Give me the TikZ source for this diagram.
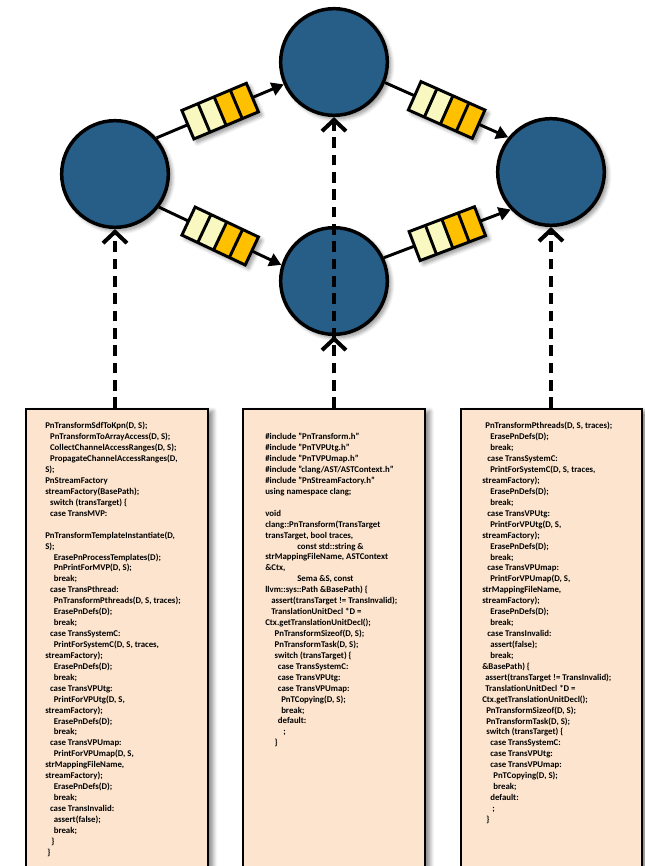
\documentclass[tikz,border=0pt]{standalone}
\usepackage{fontspec}
\setmainfont{Carlito}
\usetikzlibrary{arrows.meta,shadows,shadows.blur,calc}
\definecolor{cblue}{RGB}{38,94,136}
\definecolor{qlight}{RGB}{248,248,192}
\definecolor{qorange}{RGB}{255,192,0}
\definecolor{peach}{RGB}{252,228,206}
\newcommand\Ia{\hspace*{3.6pt}}
\newcommand\Ib{\hspace*{6.4pt}}
\begin{document}
\begin{tikzpicture}[x=0.75pt,y=-0.75pt,
 softshadow/.style={blur shadow={shadow xshift=2.5pt,shadow yshift=-2.5pt,shadow blur radius=3pt,shadow opacity=45,shadow blur steps=8}},
 proc/.style={circle,draw=black,line width=2.6pt,fill=cblue,minimum size=80pt,inner sep=0pt,softshadow},
 edge/.style={line width=2.2pt,-{Triangle[length=9pt,width=10pt]}},
 darr/.style={line width=3pt,dash pattern=on 8pt off 5pt,-{Straight Barb[length=8.5pt,width=18pt]}},
 codebox/.style={draw=black,line width=1.5pt,fill=peach,inner sep=0pt,anchor=north west,
   minimum height=354pt,blur shadow={shadow xshift=3.5pt,shadow yshift=-2pt,shadow blur radius=3.5pt,shadow opacity=50,shadow blur steps=8}},
 code/.style={anchor=north west,inner sep=0pt,align=left,font=\fontsize{6.6pt}{8.2pt}\selectfont\bfseries},
 queue/.pic={
   \path[softshadow] (-35,-15.5) rectangle (35,15.5);
   \fill[qlight] (-35,-15.5) rectangle (0,15.5);
   \fill[qorange] (0,-15.5) rectangle (35,15.5);
   \draw[line width=2.2pt] (-17.5,-15.5) -- (-17.5,15.5) (0,-15.5) -- (0,15.5) (17.5,-15.5) -- (17.5,15.5);
   \draw[line width=2.2pt] (-35,-15.5) rectangle (35,15.5);
 }
]
\useasboundingbox (0,0) rectangle (645,866);

% code boxes
\node[codebox,minimum width=136.5pt] (lbox) at (25,408) {};
\node[codebox,minimum width=136.5pt] (mbox) at (242,408) {};
\node[codebox,minimum width=135.75pt] (rbox) at (460,408) {};

% processes
\node[proc] (L) at (115,174) {};
\node[proc] (T) at (334,62) {};
\node[proc] (B) at (334,281) {};
\node[proc] (R) at (551,172) {};

% channels
\draw[edge] (L.41) -- (T.-156);
\draw[edge] (L.-37) -- (B.163);
\draw[edge] (T.-22) -- (R.141);
\draw[edge] (B.25) -- (R.-137);
\path (L.41) -- pic[pos=.5,sloped]{queue} (T.-156);
\path (L.-37) -- pic[pos=.5,sloped]{queue} (B.163);
\path (T.-22) -- pic[pos=.5,sloped]{queue} (R.141);
\path (B.25) -- pic[pos=.5,sloped]{queue} (R.-137);

% mappings
\draw[darr] (L.south |- lbox.north) -- (L.south);
\draw[darr] (B.south |- mbox.north) -- (B.south);
\draw[darr] (B.south |- mbox.north) -- (T.south);
\draw[darr] (R.south |- rbox.north) -- (R.south);

% code
\node[code] (ltext) at (45,422) {PnTransformSdfToKpn(D, S);\\
\Ia PnTransformToArrayAccess(D, S);\\
\Ia CollectChannelAccessRanges(D, S);\\
\Ia PropagateChannelAccessRanges(D,\\
S);\\
PnStreamFactory\\
streamFactory(BasePath);\\
\Ia switch (transTarget) \{\\
\Ia case TransMVP:\\[8.2pt]
PnTransformTemplateInstantiate(D,\\
S);\\
\Ib ErasePnProcessTemplates(D);\\
\Ib PnPrintForMVP(D, S);\\
\Ib break;\\
\Ia case TransPthread:\\
\Ib PnTransformPthreads(D, S, traces);\\
\Ib ErasePnDefs(D);\\
\Ib break;\\
\Ia case TransSystemC:\\
\Ib PrintForSystemC(D, S, traces,\\
streamFactory);\\
\Ib ErasePnDefs(D);\\
\Ib break;\\
\Ia case TransVPUtg:\\
\Ib PrintForVPUtg(D, S,\\
streamFactory);\\
\Ib ErasePnDefs(D);\\
\Ib break;\\
\Ia case TransVPUmap:\\
\Ib PrintForVPUmap(D, S,\\
strMappingFileName,\\
streamFactory);\\
\Ib ErasePnDefs(D);\\
\Ib break;\\
\Ia case TransInvalid:\\
\Ib assert(false);\\
\Ib break;\\
\hspace*{4.5pt}\}\\
\hspace*{1.5pt}\}};

\node[code] (mtext) at (265,433) {\#include "PnTransform.h"\\
\#include "PnTVPUtg.h"\\
\#include "PnTVPUmap.h"\\
\#include "clang/AST/ASTContext.h"\\
\#include "PnStreamFactory.h"\\
using namespace clang;\\[8.2pt]
void\\
clang::PnTransform(TransTarget\\
transTarget, bool traces,\\
\hspace*{24pt}const std::string \&\\
strMappingFileName, ASTContext\\
\&Ctx,\\
\hspace*{24pt}Sema \&S, const\\
llvm::sys::Path \&BasePath) \{\\
\hspace*{4.5pt}assert(transTarget != TransInvalid);\\
\hspace*{4.5pt}TranslationUnitDecl *D =\\
Ctx.getTranslationUnitDecl();\\
\hspace*{7pt}PnTransformSizeof(D, S);\\
\hspace*{7pt}PnTransformTask(D, S);\\
\hspace*{7pt}switch (transTarget) \{\\
\hspace*{9.5pt}case TransSystemC:\\
\hspace*{9.5pt}case TransVPUtg:\\
\hspace*{9.5pt}case TransVPUmap:\\
\hspace*{12pt}PnTCopying(D, S);\\
\hspace*{12pt}break;\\
\hspace*{9.5pt}default:\\
\hspace*{13.5pt};\\
\hspace*{7pt}\}};

\node[code] (rtext) at (482,422) {\hspace*{2.3pt}PnTransformPthreads(D, S, traces);\\
\hspace*{6pt}ErasePnDefs(D);\\
\hspace*{6pt}break;\\
\hspace*{3.8pt}case TransSystemC:\\
\hspace*{6pt}PrintForSystemC(D, S, traces,\\
streamFactory);\\
\hspace*{6pt}ErasePnDefs(D);\\
\hspace*{6pt}break;\\
\hspace*{3.8pt}case TransVPUtg:\\
\hspace*{6pt}PrintForVPUtg(D, S,\\
streamFactory);\\
\hspace*{6pt}ErasePnDefs(D);\\
\hspace*{6pt}break;\\
\hspace*{3.8pt}case TransVPUmap:\\
\hspace*{6pt}PrintForVPUmap(D, S,\\
strMappingFileName,\\
streamFactory);\\
\hspace*{6pt}ErasePnDefs(D);\\
\hspace*{6pt}break;\\
\hspace*{3.8pt}case TransInvalid:\\
\hspace*{6pt}assert(false);\\
\hspace*{6pt}break;\\
\&BasePath) \{\\
\hspace*{2.3pt}assert(transTarget != TransInvalid);\\
\hspace*{2.3pt}TranslationUnitDecl *D =\\
Ctx.getTranslationUnitDecl();\\
\hspace*{3pt}PnTransformSizeof(D, S);\\
\hspace*{3pt}PnTransformTask(D, S);\\
\hspace*{3pt}switch (transTarget) \{\\
\hspace*{6pt}case TransSystemC:\\
\hspace*{6pt}case TransVPUtg:\\
\hspace*{6pt}case TransVPUmap:\\
\hspace*{8.3pt}PnTCopying(D, S);\\
\hspace*{8.3pt}break;\\
\hspace*{6pt}default:\\
\hspace*{7.5pt};\\
\hspace*{3pt}\}};
\end{tikzpicture}
\end{document}
